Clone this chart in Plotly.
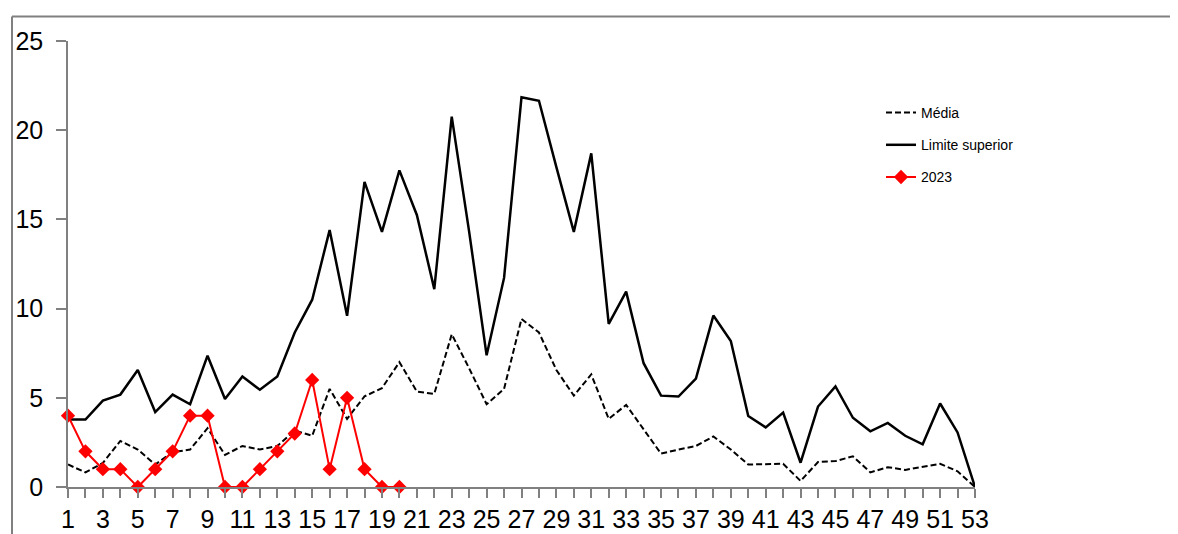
import plotly.graph_objects as go

weeks = list(range(1, 54))
limite_superior = [3.78, 3.78, 4.84, 5.18, 6.56, 4.2, 5.18, 4.64, 7.36, 4.93,
                   6.19, 5.45, 6.19, 8.66, 10.5, 14.4, 9.6, 17.1, 14.3, 17.75,
                   15.25, 11.09, 20.76, 14.3, 7.38, 11.72, 21.85, 21.65, 17.93, 14.3,
                   18.7, 9.14, 10.95, 6.94, 5.12, 5.07, 6.08, 9.61, 8.18, 3.98,
                   3.34, 4.17, 1.36, 4.51, 5.64, 3.88, 3.12, 3.59, 2.87, 2.39,
                   4.68, 3.06, 0]
media = [1.26, 0.82, 1.35, 2.58, 2.1, 1.26, 1.95, 2.1, 3.3, 1.8,
         2.3, 2.1, 2.3, 3.17, 2.87, 5.5, 3.82, 5.08, 5.54, 7.0,
         5.35, 5.22, 8.56, 6.65, 4.64, 5.5, 9.42, 8.66, 6.56, 5.12,
         6.31, 3.82, 4.6, 3.21, 1.87, 2.1, 2.3, 2.83, 2.1, 1.26,
         1.26, 1.3, 0.34, 1.4, 1.45, 1.72, 0.82, 1.11, 0.96, 1.11,
         1.3, 0.88, 0]
weeks_2023 = list(range(1, 21))
casos_2023 = [4, 2, 1, 1, 0, 1, 2, 4, 4, 0, 0, 1, 2, 3, 6, 1, 5, 1, 0, 0]

y_ticks = [0, 5, 10, 15, 20, 25]
x_tick_labels = [str(w) for w in weeks if w % 2 == 1]

fig = go.Figure()
fig.add_trace(go.Scatter(x=weeks, y=media, mode="lines", name="Média",
                         line=dict(color="black", width=2, dash="6px,3px"),
                         legendgroup="a"))
fig.add_trace(go.Scatter(x=weeks, y=limite_superior, mode="lines", name="Limite superior",
                         line=dict(color="black", width=2.5),
                         legendgroup="b"))
fig.add_trace(go.Scatter(x=weeks_2023, y=casos_2023, mode="lines+markers", name="2023",
                         line=dict(color="#ff0000", width=2),
                         marker=dict(symbol="diamond", size=11, color="#ff0000"),
                         cliponaxis=False, legendgroup="c"))

OFF = 8  # page body margin
W, H = 1178 - OFF, 534 - OFF
# page-pixel plot area
PL, PR, PT, PB = 68, 975, 41, 487
L, T = PL - OFF, PT - OFF
R = W - (PR - OFF)
B = H - (PB - OFF)
pw, ph = PR - PL, PB - PT

def px_x(p):
    return (p - PL) / pw

def px_y(p):
    return (PB - p) / ph

fig.update_layout(
    width=W, height=H,
    margin=dict(l=L, r=R, t=T, b=B, autoexpand=False),
    paper_bgcolor="white", plot_bgcolor="white",
    font=dict(family="Liberation Sans, Arial, sans-serif", color="black"),
    showlegend=True,
    legend=dict(x=px_x(881), y=px_y(97), xanchor="left", yanchor="top",
                font=dict(size=14, family="Liberation Sans, Arial, sans-serif"),
                traceorder="grouped", tracegroupgap=11,
                bgcolor="rgba(0,0,0,0)"),
    xaxis=dict(range=[1, 53], tickmode="array", automargin=False,
               tickvals=[w for w in weeks if w % 2 == 1], ticktext=x_tick_labels,
               showgrid=False, zeroline=False, showline=True, linecolor="#808080", linewidth=1.5,
               ticks="outside", ticklen=9, tickcolor="#808080", tickwidth=1.5,
               minor=dict(dtick=1, tick0=0, ticks="outside", ticklen=9, tickcolor="#808080", tickwidth=1.5),
               tickfont=dict(size=25), ticklabelstandoff=0),
    yaxis=dict(range=[0, 25], tickvals=y_ticks, automargin=False,
               showgrid=False, zeroline=False, showline=True, linecolor="#808080", linewidth=1.5,
               ticks="outside", ticklen=10, tickcolor="#808080", tickwidth=1.5,
               tickfont=dict(size=25), ticklabelstandoff=8),
    shapes=[
        dict(type="line", xref="paper", yref="paper",
             x0=px_x(12), x1=px_x(1200), y0=px_y(16.5), y1=px_y(16.5),
             line=dict(color="#808080", width=2)),
        dict(type="line", xref="paper", yref="paper",
             x0=px_x(12), x1=px_x(12), y0=px_y(16.5), y1=px_y(560),
             line=dict(color="#808080", width=2)),
    ],
)

fig.write_html("out.html")
